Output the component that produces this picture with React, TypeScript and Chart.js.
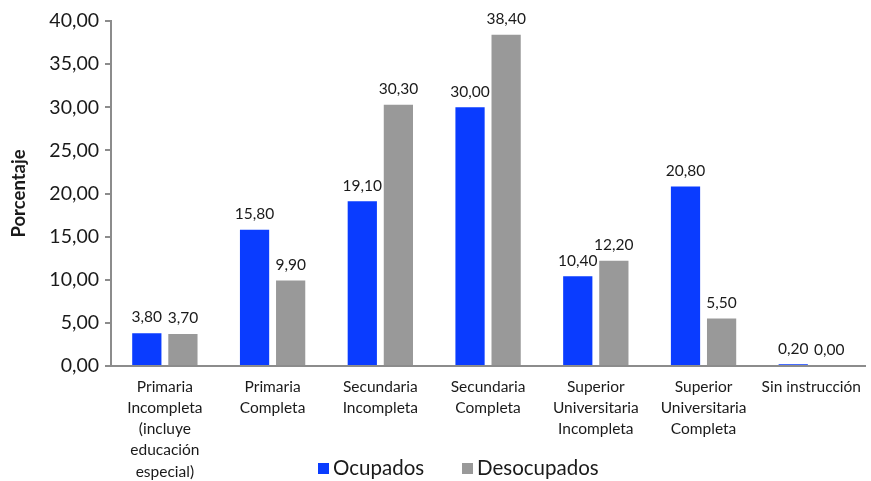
import React, { useEffect, useRef } from "react";
import { Chart, registerables } from "chart.js";

Chart.register(...registerables);

const categories: string[][] = [
  ["Primaria", "Incompleta", "(incluye", "educación", "especial)"],
  ["Primaria", "Completa"],
  ["Secundaria", "Incompleta"],
  ["Secundaria", "Completa"],
  ["Superior", "Universitaria", "Incompleta"],
  ["Superior", "Universitaria", "Completa"],
  ["Sin instrucción"],
];
const ocupados = [3.8, 15.8, 19.1, 30.0, 10.4, 20.8, 0.2];
const desocupados = [3.7, 9.9, 30.3, 38.4, 12.2, 5.5, 0.0];
const seriesNames = ["Ocupados", "Desocupados"];
const seriesColors = ["#0a3cff", "#999999"];

const FONT = "Lato, 'Noto Sans', sans-serif";
const fmt = (v: number) => v.toFixed(2).replace(".", ",");

const labelPlugin = {
  id: "valueLabels",
  afterDatasetsDraw(chart: any) {
    const ctx = chart.ctx;
    ctx.save();
    ctx.font = `15.5px ${FONT}`;
    ctx.fillStyle = "#1a1a1a";
    ctx.textAlign = "center";
    ctx.textBaseline = "bottom";
    chart.data.datasets.forEach((ds: any, i: number) => {
      const meta = chart.getDatasetMeta(i);
      meta.data.forEach((bar: any, j: number) => {
        ctx.fillText(fmt(ds.data[j]), bar.x, bar.y - 8);
      });
    });
    ctx.restore();
  },
};

const legendPlugin = {
  id: "customLegend",
  afterDraw(chart: any) {
    const ctx = chart.ctx;
    ctx.save();
    ctx.font = `20.5px ${FONT}`;
    ctx.textBaseline = "middle";
    ctx.textAlign = "left";
    const y = 468;
    const xs = [318, 462];
    seriesNames.forEach((name, i) => {
      ctx.fillStyle = seriesColors[i];
      ctx.fillRect(xs[i], y - 5, 11, 11);
      ctx.fillStyle = "#1a1a1a";
      ctx.fillText(name, xs[i] + 15, y);
    });
    ctx.restore();
  },
};

export default function App() {
  const ref = useRef<HTMLCanvasElement>(null);
  useEffect(() => {
    if (!ref.current) return;
    const chart = new Chart(ref.current, {
      type: "bar",
      data: {
        labels: categories,
        datasets: [
          {
            label: seriesNames[0],
            data: ocupados,
            backgroundColor: seriesColors[0],
            categoryPercentage: 0.67,
            barPercentage: 0.81,
          },
          {
            label: seriesNames[1],
            data: desocupados,
            backgroundColor: seriesColors[1],
            categoryPercentage: 0.67,
            barPercentage: 0.81,
          },
        ],
      },
      options: {
        animation: false,
        responsive: false,
        maintainAspectRatio: false,
        layout: { padding: { top: 21, right: 0, left: 0, bottom: 0 } },
        plugins: {
          legend: { display: false },
          tooltip: { enabled: false },
        },
        scales: {
          y: {
            min: 0,
            max: 40,
            ticks: {
              stepSize: 5,
              font: { family: FONT, size: 19.5 },
              color: "#1a1a1a",
              padding: 6,
              callback: (v: any) => fmt(Number(v)),
            },
            grid: {
              drawOnChartArea: false,
              drawTicks: true,
              tickLength: 6,
              color: "#8c8c8c",
              lineWidth: 2,
            },
            border: { color: "#8c8c8c", width: 2 },
            title: {
              display: true,
              text: "Porcentaje",
              font: { family: FONT, size: 18.5, weight: "bold" },
              color: "#1a1a1a",
              padding: { top: 8, bottom: 6 },
            },
            afterFit: (s: any) => {
              s.width = 111;
            },
          },
          x: {
            ticks: {
              font: { family: FONT, size: 15.5, lineHeight: 1.37 },
              color: "#1a1a1a",
              maxRotation: 0,
              autoSkip: false,
              padding: 10,
            },
            grid: { display: false, drawTicks: false },
            border: { color: "#8c8c8c", width: 2 },
            afterFit: (s: any) => {
              s.height = 115;
            },
          },
        },
      },
      plugins: [labelPlugin, legendPlugin],
    });
    return () => chart.destroy();
  }, []);
  return (
    <div style={{ position: "fixed", left: 0, top: 0, width: 871, height: 481, background: "#fff" }}>
      <canvas ref={ref} width={871} height={481} style={{ display: "block" }} />
    </div>
  );
}
